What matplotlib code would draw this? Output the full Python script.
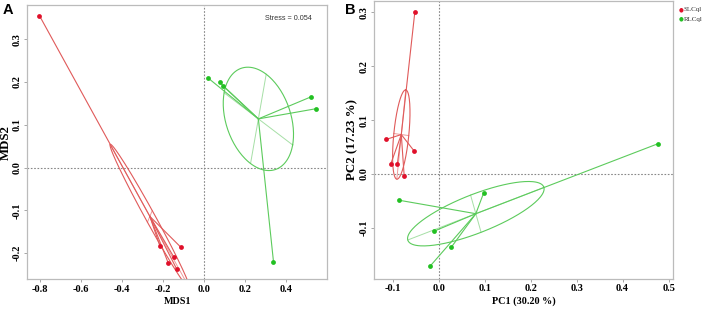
import numpy as np
import matplotlib
matplotlib.use("Agg")
import matplotlib.pyplot as plt

# ---- Data ----
groups = ["SLCql", "RLCql"]

# Panel A: NMDS
a_slc_x = [-0.801, -0.215, -0.113, -0.147, -0.174, -0.132]
a_slc_y = [0.355, -0.183, -0.186, -0.209, -0.223, -0.238]
a_rlc_x = [0.018, 0.076, 0.092, 0.519, 0.544, 0.338]
a_rlc_y = [0.210, 0.199, 0.191, 0.165, 0.1375, -0.2195]
a_stress = 0.054

# Panel B: PCA
b_slc_x = [-0.052, -0.114, -0.104, -0.090, -0.053, -0.075]
b_slc_y = [0.300, 0.064, 0.019, 0.018, 0.042, -0.005]
b_rlc_x = [0.477, 0.0976, -0.087, -0.011, 0.027, -0.019]
b_rlc_y = [0.056, -0.036, -0.049, -0.107, -0.137, -0.172]

a_xticks = [-0.8, -0.6, -0.4, -0.2, 0.0, 0.2, 0.4]
a_yticks = [-0.2, -0.1, 0.0, 0.1, 0.2, 0.3]
b_xticks = [-0.1, 0.0, 0.1, 0.2, 0.3, 0.4, 0.5]
b_yticks = [-0.1, 0.0, 0.1, 0.2, 0.3]

ELLIPSE_COEFF = 0.8

PT_COLORS = ["#E0102A", "#22C022"]
LN_COLORS = ["#E05A5A", "#5CCB5C"]
AX_COLORS = ["#EE9A9A", "#A6DFA6"]

SERIF = ["Liberation Serif", "DejaVu Serif"]
SANS = ["Liberation Sans", "DejaVu Sans"]


def ellipse_from_points(x, y, coeff):
    x = np.asarray(x); y = np.asarray(y)
    mx, my = x.mean(), y.mean()
    vx = ((x - mx) ** 2).mean()
    vy = ((y - my) ** 2).mean()
    cxy = ((x - mx) * (y - my)).mean()
    delta = np.sqrt((vx - vy) ** 2 + 4 * cxy ** 2)
    l1 = max((vx + vy + delta) / 2, 0)
    l2 = max(vx + vy - l1, 0)
    l1, l2 = np.sqrt(l1), np.sqrt(l2)
    a0 = 1.0
    b0 = (l1 * l1 - vx) / cxy
    n = np.hypot(a0, b0)
    a0, b0 = a0 / n, b0 / n
    c11 = coeff * a0 * l1
    c12 = -coeff * b0 * l2
    c21 = coeff * b0 * l1
    c22 = coeff * a0 * l2
    t = np.linspace(0, 2 * np.pi, 200)
    ex = mx + c11 * np.cos(t) + c12 * np.sin(t)
    ey = my + c21 * np.cos(t) + c22 * np.sin(t)
    seg1 = ((mx + c11, mx - c11), (my + c21, my - c21))
    seg2 = ((mx + c12, mx - c12), (my + c22, my - c22))
    return mx, my, ex, ey, seg1, seg2


def draw_class(ax, x, y, k):
    mx, my, ex, ey, s1, s2 = ellipse_from_points(x, y, ELLIPSE_COEFF)
    ax.plot(s1[0], s1[1], color=AX_COLORS[k], lw=0.7, zorder=2)
    ax.plot(s2[0], s2[1], color=AX_COLORS[k], lw=0.7, zorder=2)
    ax.plot(ex, ey, color=LN_COLORS[k], lw=0.8, zorder=3)
    for xi, yi in zip(x, y):
        ax.plot([mx, xi], [my, yi], color=LN_COLORS[k], lw=0.8, zorder=3)
    ax.scatter(x, y, s=12, color=PT_COLORS[k], zorder=5, linewidths=0)


def style_axes(ax, xticks, yticks, xlim, ylim, xlabel, ylabel):
    ax.set_xlim(*xlim)
    ax.set_ylim(*ylim)
    ax.axhline(0, color="#888888", lw=0.8, ls=(0, (1.5, 1.5)), zorder=1)
    ax.axvline(0, color="#888888", lw=0.8, ls=(0, (1.5, 1.5)), zorder=1)
    ax.set_xticks(xticks)
    ax.set_yticks(yticks)
    ax.set_xticklabels([f"{v:.1f}" for v in xticks], fontfamily=SERIF,
                       fontweight="bold", fontsize=7.5)
    ax.set_yticklabels([f"{v:.1f}" for v in yticks], fontfamily=SERIF,
                       fontweight="bold", fontsize=7.5, rotation=90, va="center")
    ax.tick_params(length=2.5, width=0.6, color="#999999", pad=1.5)
    for s in ax.spines.values():
        s.set_color("#BBBBBB")
        s.set_linewidth(0.9)
    ax.set_xlabel(xlabel, fontfamily=SERIF, fontweight="bold", fontsize=7.3, labelpad=2)
    ax.set_ylabel(ylabel, fontfamily=SERIF, fontweight="bold", fontsize=9.3, labelpad=1)


fig = plt.figure(figsize=(7.08, 3.10), dpi=100)
axA = fig.add_axes([0.0386, 0.099, 0.4237, 0.885])
axB = fig.add_axes([0.5287, 0.101, 0.4215, 0.897])

draw_class(axA, a_slc_x, a_slc_y, 0)
draw_class(axA, a_rlc_x, a_rlc_y, 1)
style_axes(axA, a_xticks, a_yticks, (-0.86, 0.60), (-0.261, 0.380), "MDS1", "MDS2")
axA.text(0.95, 0.965, f"Stress = {a_stress}", transform=axA.transAxes, ha="right",
         va="top", fontsize=5.2, fontfamily=SANS, color="#333333")

draw_class(axB, b_slc_x, b_slc_y, 0)
draw_class(axB, b_rlc_x, b_rlc_y, 1)
style_axes(axB, b_xticks, b_yticks, (-0.140, 0.509), (-0.195, 0.322),
           "PC1 (30.20 %)", "PC2 (17.23 %)")

# legend outside panel B
for k, g in enumerate(groups):
    yy = 0.968 - k * 0.03
    fig.text(0.958, yy, "\u25CF", color=PT_COLORS[k], fontsize=4, va="center",
             ha="left", fontfamily=["DejaVu Sans"])
    fig.text(0.966, yy, g, color="#333333", fontsize=5, va="center", ha="left",
             fontfamily=SERIF)

fig.text(0.004, 0.99, "A", fontsize=10.5, fontweight="bold", va="top", ha="left",
         fontfamily=SANS)
fig.text(0.487, 0.99, "B", fontsize=10.5, fontweight="bold", va="top", ha="left",
         fontfamily=SANS)

fig.savefig("out.png", dpi=100)
